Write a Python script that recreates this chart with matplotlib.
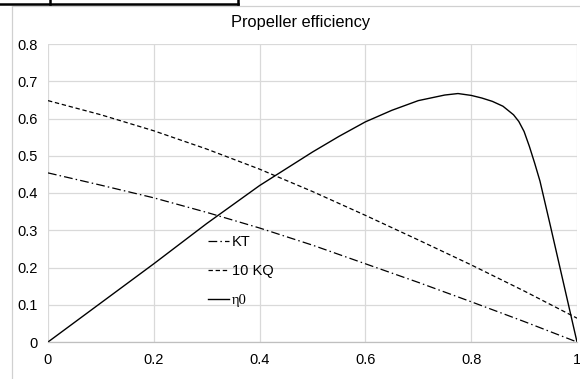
import matplotlib
matplotlib.use("Agg")
import matplotlib.pyplot as plt
from matplotlib.lines import Line2D

# ---- data ----
J_kt = [0.0, 0.1, 0.2, 0.3, 0.4, 0.5, 0.6, 0.7, 0.8, 0.9, 1.0]
KT = [0.454, 0.421, 0.387, 0.348, 0.306, 0.260, 0.210, 0.160, 0.108, 0.055, 0.0]

J_kq = [0.0, 0.1, 0.2, 0.3, 0.4, 0.5, 0.6, 0.7, 0.8, 0.9, 1.0]
KQ10 = [0.648, 0.610, 0.567, 0.518, 0.464, 0.404, 0.340, 0.274, 0.207, 0.137, 0.064]

J_eta = [0.0, 0.1, 0.2, 0.3, 0.4, 0.5, 0.55, 0.6, 0.65, 0.7, 0.75, 0.775,
         0.8, 0.82, 0.84, 0.86, 0.88, 0.89, 0.90, 0.91, 0.92, 0.93, 0.95, 0.975, 1.0]
ETA0 = [0.0, 0.105, 0.21, 0.318, 0.42, 0.51, 0.552, 0.591, 0.622, 0.648, 0.663,
        0.667, 0.662, 0.655, 0.646, 0.633, 0.610, 0.592, 0.565, 0.525, 0.480,
        0.432, 0.31, 0.155, 0.0]

x_ticks = [0, 0.2, 0.4, 0.6, 0.8, 1]
x_ticklabels = ["0", "0.2", "0.4", "0.6", "0.8", "1"]
y_ticks = [0, 0.1, 0.2, 0.3, 0.4, 0.5, 0.6, 0.7, 0.8]
y_ticklabels = ["0", "0.1", "0.2", "0.3", "0.4", "0.5", "0.6", "0.7", "0.8"]

title = "Propeller efficiency"
labels = ["KT", "10 KQ", "\u03b70"]

# ---- figure ----
W, H = 580, 379
plt.rcParams['font.family'] = ['Liberation Sans', 'DejaVu Sans']
fig = plt.figure(figsize=(W / 100, H / 100), dpi=100)

def fx(px):
    return px / W

def fy(py):
    return 1 - py / H

# chart border (light grey) and spreadsheet cell border (black)
fig.add_artist(Line2D([fx(11.5), fx(11.5)], [fy(6), fy(379)], transform=fig.transFigure,
                      color='#d0d0d0', linewidth=0.9))
fig.add_artist(Line2D([fx(11.5), fx(580)], [fy(6), fy(6)], transform=fig.transFigure,
                      color='#d0d0d0', linewidth=0.9))
fig.add_artist(Line2D([0, fx(238)], [fy(3.5), fy(3.5)], transform=fig.transFigure,
                      color='black', linewidth=1.8))
for xp in (50, 238):
    fig.add_artist(Line2D([fx(xp), fx(xp)], [fy(0), fy(3.5)], transform=fig.transFigure,
                          color='black', linewidth=1.8))

left, right, top, bottom = 48, 577, 44, 342
ax = fig.add_axes([fx(left), fy(bottom), fx(right) - fx(left), fy(top) - fy(bottom)])

ax.plot(J_kt, KT, color='black', linewidth=0.9, linestyle=(0, (7, 2.5, 1.2, 2.5)),
        label=labels[0])
ax.plot(J_kq, KQ10, color='black', linewidth=0.9, linestyle=(0, (3.5, 2.2)),
        label=labels[1])
ax.plot(J_eta, ETA0, color='black', linewidth=1.0, linestyle='-', label=labels[2])

ax.set_xlim(0, 1)
ax.set_ylim(0, 0.8)
ax.set_xticks(x_ticks)
ax.set_xticklabels(x_ticklabels)
ax.set_yticks(y_ticks)
ax.set_yticklabels(y_ticklabels)
ax.tick_params(length=0, labelsize=10.5, colors='#333333', labelcolor='black')
ax.tick_params(axis='x', pad=8)
ax.tick_params(axis='y', pad=7.5)
ax.grid(True, color='#d9d9d9', linewidth=0.9)
ax.set_axisbelow(True)
for s in ('top', 'right', 'left'):
    ax.spines[s].set_visible(False)
ax.spines['bottom'].set_color('#bfbfbf')
ax.spines['bottom'].set_linewidth(0.9)

fig.text(fx(301), fy(22), title, ha='center', va='center', fontsize=11.8)

leg = ax.legend(loc='upper left', bbox_to_anchor=(fx(208), fy(235)),
                bbox_transform=fig.transFigure, frameon=False, fontsize=10.5,
                handlelength=1.45, handletextpad=0.2, labelspacing=1.05,
                borderpad=0, borderaxespad=0)
leg.get_texts()[2].set_fontfamily(['Liberation Serif', 'DejaVu Serif'])

fig.savefig("out.png", dpi=100)
